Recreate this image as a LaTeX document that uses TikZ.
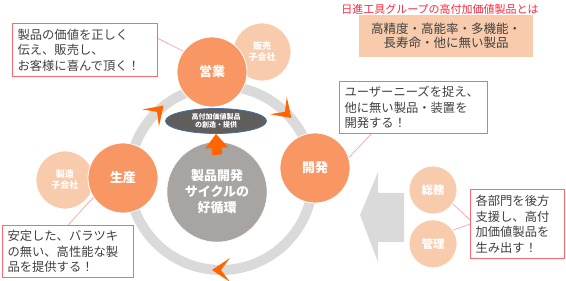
\documentclass[tikz,border=0pt]{standalone}
\usepackage{fontspec}
\setmainfont{Noto Sans CJK JP}
\usepackage{tikz}
\usetikzlibrary{shapes.geometric, arrows.meta, positioning, calc}
\definecolor{deptorange}{RGB}{248,150,100}
\definecolor{subpeach}{RGB}{248,203,173}
\definecolor{arroworange}{RGB}{255,102,0}
\definecolor{ringgray}{RGB}{218,218,218}
\definecolor{coregray}{RGB}{168,164,162}
\definecolor{ovalgray}{RGB}{96,93,93}
\definecolor{ovalblue}{RGB}{70,115,160}
\definecolor{notered}{RGB}{255,105,110}
\definecolor{linkpink}{RGB}{255,150,155}
\definecolor{titlered}{RGB}{255,40,60}
\definecolor{textgray}{RGB}{64,64,64}
\tikzset{
  note/.style={rectangle, draw=notered, line width=1.1pt, fill=white, anchor=north west,
    inner xsep=5pt, inner ysep=3pt, align=left, text=textgray,
    font=\fontsize{12.3}{15.5}\selectfont},
  dept/.style={circle, minimum size=70pt, inner sep=0pt, fill=deptorange, draw=white,
    line width=0.8pt, text=white, font=\bfseries\fontsize{13}{16}\selectfont},
  sub/.style={circle, minimum size=58pt, inner sep=0pt, fill=subpeach, draw=white,
    line width=0.8pt, text=white, align=center, font=\bfseries\fontsize{9}{11}\selectfont},
  staff/.style={sub, minimum size=48pt, font=\bfseries\fontsize{11.5}{13}\selectfont},
  link/.style={draw=linkpink, line width=0.6pt},
  uparrow/.style={-{Triangle[length=14pt,width=22pt]}, line width=10pt, draw=arroworange}
}
\begin{document}
\begin{tikzpicture}[x=1pt, y=1pt]
\useasboundingbox (0,0) rectangle (566,281);

\coordinate (ring) at (221,103);
\draw[ringgray, line width=10pt] (ring) circle[radius=92];
\foreach \a in {134,46,270}
  \fill[arroworange, shift={($(ring)+(\a:92)$)}, rotate=\a-90]
    (9,0) -- (-9,12) -- (0,0) -- (-9,-12) -- cycle;

\fill[ringgray] (360,66) -- (378,109) -- (378,88) -- (404,88) -- (404,39)
  -- (378,39) -- (378,19) -- cycle;

\node (core) [circle, minimum size=100pt, inner sep=0pt, fill=coregray, draw=white,
  text=white, align=center, font=\bfseries\fontsize{13}{16}\selectfont]
  at (217,89) {製品開発\\サイクルの\\好循環};
\node (oval) [ellipse, minimum width=101pt, minimum height=25pt, inner sep=0pt,
  fill=ovalgray, draw=ovalblue, line width=0.8pt, text=white, align=center,
  font=\bfseries\fontsize{7}{8.5}\selectfont] at (216,160) {高付加価値製品\\の創造・提供};
\draw [uparrow] ([yshift=-13pt]core.north) -- (oval.south);

\node (hanbai)   [sub]  at (262,229) {販売\\子会社};
\node (eigyo)    [dept] at (212,209) {営業};
\node (kaihatsu) [dept] at (315,113) {開発};
\node (seizo)    [sub]  at (65,101)  {製造\\子会社};
\node (seisan)   [dept] at (123,103) {生産};
\node (somu)     [staff] at (433,91) {総務};
\node (kanri)    [staff, below=5pt of somu] {管理};

\node (salesnote) [note, text width=135pt, minimum height=53pt] at (12,258)
  {製品の価値を正しく\\伝え、販売し、\\お客様に喜んで頂く！};
\node (devnote) [note, text width=138pt, minimum height=52pt] at (339,200)
  {ユーザーニーズを捉え、\\他に無い製品・装置を\\開発する！};
\node (prodnote) [note, text width=121pt, minimum height=52pt] at (2,56)
  {安定した、バラツキ\\の無い、高性能な製\\品を提供する！};
\node (supportnote) [note, text width=84pt, minimum height=69pt] at (470,92)
  {各部門を後方\\支援し、高付\\加価値製品を\\生み出す！};

\draw [link] (salesnote.9)   -- (eigyo.144);
\draw [link] (devnote.212)   -- (kaihatsu.17);
\draw [link] (prodnote.north) -- (seisan.213);
\draw [link] (somu.-35)      -- (supportnote.175);
\draw [link] (kanri.34)      -- (supportnote.180);

\node (title) [text=titlered, font=\fontsize{11}{13}\selectfont] at (440,272)
  {日進工具グループの高付加価値製品とは};
\node (feature) [fill=subpeach, minimum width=174pt, minimum height=42pt, align=center,
  text=textgray, font=\fontsize{12.5}{14.5}\selectfont] at (446,245)
  {高精度・高能率・多機能・\\長寿命・他に無い製品};
\end{tikzpicture}
\end{document}
